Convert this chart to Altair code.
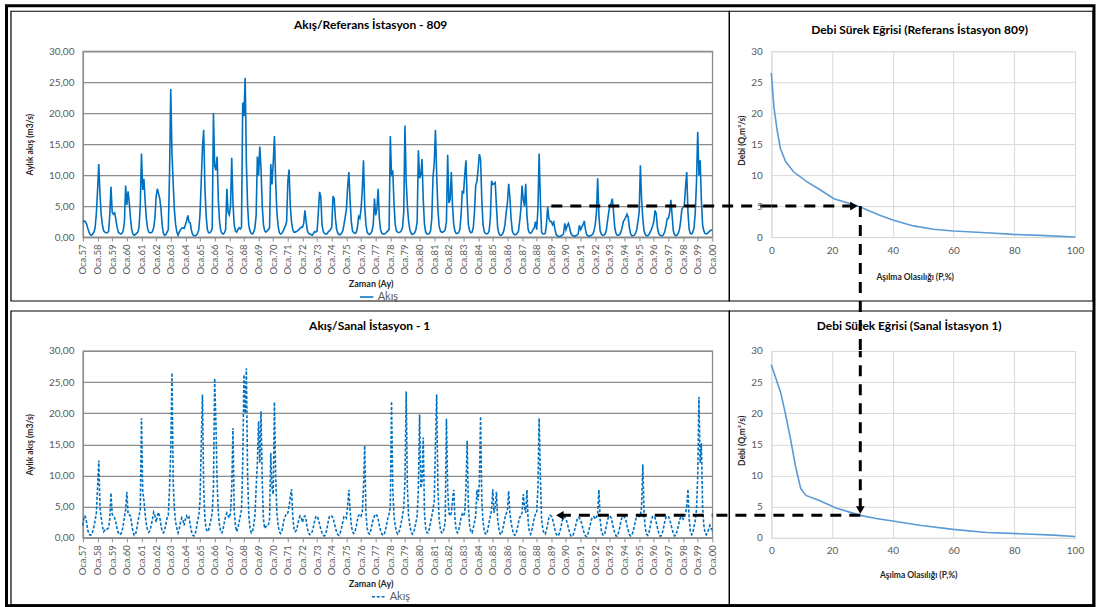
import altair as alt
import pandas as pd

# ---------------------------------------------------------------- data
YEAR_LABELS = ["57", "58", "59", "60", "61", "62", "63", "64", "65", "66", "67",
               "68", "69", "70", "71", "72", "73", "74", "75", "76", "77", "78",
               "79", "80", "81", "82", "83", "84", "85", "86", "87", "88", "89",
               "90", "91", "92", "93", "94", "95", "96", "97", "98", "99", "00"]

# monthly flow at reference station 809 (m3/s), one row per year, Oca..Ara
REF_FLOW = [
    [2.4, 2.6, 2.5, 2.1, 1.4, 0.8, 0.4, 0.3, 0.5, 0.8, 1.5, 3.8],
    [7.6, 11.8, 6.8, 3.6, 1.9, 1.0, 0.8, 0.7, 0.7, 0.9, 3.5, 8.1],
    [4.0, 3.7, 3.9, 2.8, 1.6, 0.8, 0.6, 0.5, 0.6, 1.0, 2.4, 8.3],
    [5.2, 7.4, 5.5, 3.0, 1.2, 0.5, 0.3, 0.4, 0.6, 0.8, 1.6, 5.0],
    [13.5, 7.6, 9.4, 5.8, 3.0, 1.4, 0.8, 0.7, 0.7, 0.9, 1.5, 3.0],
    [6.5, 7.8, 7.0, 6.2, 4.5, 1.8, 0.6, 0.3, 0.4, 0.8, 1.2, 10.2],
    [23.9, 13.5, 8.6, 4.3, 2.0, 0.8, 0.3, 0.8, 1.2, 1.4, 1.5, 1.4],
    [2.0, 2.6, 3.5, 2.4, 2.3, 1.0, 0.4, 0.2, 0.2, 0.3, 0.6, 1.2],
    [3.8, 9.0, 14.5, 17.3, 8.0, 3.5, 1.2, 0.7, 0.7, 0.9, 1.4, 20.0],
    [11.5, 10.8, 13.0, 6.0, 2.5, 1.0, 0.6, 0.5, 0.7, 1.2, 7.8, 4.0],
    [3.6, 5.0, 12.8, 5.5, 2.0, 1.0, 0.8, 1.2, 1.5, 1.3, 1.6, 21.7],
    [19.5, 25.7, 12.0, 5.0, 1.8, 1.0, 0.6, 0.5, 0.8, 1.5, 3.5, 13.0],
    [10.0, 14.6, 11.0, 5.0, 2.0, 1.0, 0.8, 1.0, 1.2, 1.5, 11.8, 8.5],
    [12.0, 16.3, 9.0, 4.0, 1.8, 0.7, 0.5, 0.6, 0.9, 1.4, 1.8, 2.5],
    [9.0, 10.9, 5.0, 2.5, 1.2, 0.8, 0.8, 0.9, 1.0, 1.2, 1.4, 1.6],
    [1.6, 2.2, 4.3, 2.5, 1.0, 0.6, 0.5, 0.4, 0.3, 0.6, 0.9, 0.8],
    [1.0, 4.0, 7.3, 6.5, 2.0, 0.9, 0.6, 0.5, 0.5, 0.8, 1.0, 1.2],
    [1.6, 6.6, 6.2, 3.0, 1.2, 0.6, 0.4, 0.4, 0.6, 1.0, 2.0, 3.2],
    [4.5, 8.0, 10.5, 6.0, 2.5, 1.0, 0.7, 0.6, 0.7, 1.5, 3.3, 3.0],
    [4.5, 7.5, 12.4, 5.0, 2.0, 0.8, 0.5, 0.4, 0.6, 1.0, 2.0, 6.2],
    [3.5, 4.5, 7.8, 3.0, 1.2, 0.6, 0.5, 0.5, 0.6, 0.8, 1.0, 1.2],
    [16.3, 9.8, 10.8, 5.5, 2.0, 1.0, 0.8, 0.7, 0.8, 1.0, 1.5, 4.0],
    [18.0, 9.0, 5.0, 2.5, 1.2, 0.6, 0.4, 0.5, 0.7, 1.2, 2.5, 14.0],
    [9.5, 10.0, 12.6, 6.0, 2.0, 0.8, 0.5, 0.5, 0.6, 1.0, 3.0, 9.7],
    [12.0, 17.3, 10.0, 4.5, 1.8, 1.0, 0.8, 0.8, 0.9, 1.2, 2.5, 13.3],
    [5.5, 6.0, 10.5, 5.0, 2.0, 0.9, 0.6, 0.6, 0.7, 1.2, 3.5, 7.5],
    [7.0, 10.0, 12.4, 6.0, 2.0, 1.0, 0.7, 0.8, 1.5, 4.0, 8.3, 9.0],
    [11.0, 13.4, 12.5, 6.0, 2.0, 0.9, 0.6, 0.5, 0.6, 1.0, 3.0, 9.1],
    [8.5, 8.6, 8.8, 5.0, 1.5, 0.6, 0.3, 0.3, 0.5, 1.0, 2.0, 4.0],
    [5.5, 8.6, 6.5, 3.0, 1.0, 0.5, 0.4, 0.4, 0.6, 0.9, 2.5, 4.5],
    [8.3, 6.0, 5.0, 8.6, 3.5, 1.2, 0.7, 0.6, 0.8, 1.2, 1.5, 2.5],
    [1.2, 4.5, 13.5, 6.0, 0.8, 0.5, 0.5, 0.6, 2.0, 4.9, 3.0, 2.5],
    [2.5, 2.0, 2.4, 1.2, 0.4, 0.2, 0.1, 0.1, 0.2, 0.3, 0.5, 2.2],
    [1.2, 1.8, 2.2, 1.5, 0.6, 0.3, 0.2, 0.1, 0.2, 0.3, 0.5, 1.9],
    [1.2, 1.6, 2.0, 2.6, 1.2, 0.4, 0.2, 0.1, 0.2, 0.3, 0.5, 1.0],
    [2.0, 4.0, 9.5, 3.5, 1.0, 0.5, 0.3, 0.3, 0.5, 1.0, 2.5, 4.0],
    [5.0, 5.5, 6.2, 4.0, 1.5, 0.6, 0.3, 0.3, 0.4, 0.8, 1.5, 2.5],
    [2.8, 3.2, 3.7, 3.2, 1.5, 0.5, 0.2, 0.2, 0.3, 0.6, 1.2, 2.5],
    [4.0, 11.6, 6.0, 3.0, 1.0, 0.4, 0.2, 0.2, 0.4, 0.8, 1.2, 1.8],
    [2.5, 4.3, 3.8, 1.5, 0.6, 0.3, 0.2, 0.2, 0.4, 0.9, 1.8, 3.0],
    [3.0, 4.0, 6.0, 3.5, 1.0, 0.4, 0.2, 0.3, 0.6, 1.2, 2.5, 4.5],
    [4.8, 5.1, 8.0, 10.5, 4.0, 1.2, 0.6, 0.5, 0.8, 1.5, 4.0, 8.9],
    [17.0, 10.0, 12.4, 6.0, 2.0, 1.0, 0.6, 0.5, 0.6, 0.8, 1.0, 1.1],
]
REF_FLOW_LAST = 1.2  # Oca.00

# generated monthly flow at virtual station 1 (m3/s)
VIRT_FLOW = [
    [2.0, 3.5, 3.4, 2.5, 1.2, 0.6, 0.4, 0.5, 1.0, 1.8, 2.8, 4.0],
    [8.0, 12.4, 5.0, 3.2, 1.8, 1.0, 1.2, 1.5, 1.4, 1.6, 3.0, 7.2],
    [3.8, 3.4, 3.2, 2.5, 1.4, 0.8, 0.5, 0.6, 1.0, 2.0, 3.3, 4.5],
    [7.4, 3.8, 3.7, 3.5, 2.2, 1.0, 0.4, 0.5, 1.2, 2.5, 3.5, 4.5],
    [19.2, 7.5, 6.0, 3.8, 2.2, 1.2, 0.9, 1.2, 2.0, 3.0, 4.1, 3.6],
    [2.5, 3.5, 4.1, 3.3, 2.0, 1.0, 0.8, 1.2, 2.2, 3.2, 3.6, 8.0],
    [14.0, 26.5, 9.0, 4.5, 2.5, 1.5, 0.8, 1.5, 2.5, 3.2, 2.8, 2.0],
    [3.0, 3.5, 3.0, 3.3, 2.0, 1.0, 0.4, 0.3, 0.6, 1.5, 2.8, 3.5],
    [6.0, 15.0, 23.0, 8.0, 3.0, 1.5, 1.0, 1.2, 2.0, 3.0, 4.0, 8.0],
    [25.6, 18.7, 9.0, 4.0, 2.0, 1.0, 0.8, 1.5, 2.5, 3.5, 4.0, 3.5],
    [3.2, 4.0, 8.0, 17.6, 4.5, 2.0, 1.0, 1.5, 2.5, 3.5, 4.5, 12.0],
    [26.2, 20.0, 27.2, 10.0, 3.5, 1.5, 0.8, 1.0, 2.0, 3.5, 8.0, 12.0],
    [18.7, 12.0, 20.3, 9.0, 3.0, 1.5, 1.8, 2.0, 2.0, 3.0, 13.6, 8.0],
    [7.0, 21.8, 10.0, 4.0, 2.0, 1.0, 0.7, 1.0, 2.0, 3.0, 3.5, 4.0],
    [4.0, 5.0, 6.5, 7.8, 3.5, 1.5, 1.0, 1.2, 2.0, 3.0, 3.5, 3.2],
    [2.5, 3.3, 3.5, 2.8, 1.5, 0.8, 0.5, 0.6, 1.0, 1.8, 2.8, 3.4],
    [3.5, 3.0, 2.2, 1.4, 0.8, 0.4, 0.3, 0.6, 1.4, 2.5, 3.4, 3.6],
    [3.5, 3.2, 2.4, 1.6, 0.9, 0.5, 0.4, 0.8, 1.6, 2.5, 3.4, 3.5],
    [3.2, 5.0, 7.7, 4.5, 2.0, 1.0, 0.7, 1.0, 1.8, 2.8, 3.6, 3.8],
    [3.5, 4.0, 8.0, 14.8, 4.0, 1.5, 0.8, 0.6, 1.2, 2.2, 3.0, 3.5],
    [3.8, 3.6, 3.0, 2.0, 1.2, 0.6, 0.4, 0.6, 1.2, 2.2, 3.2, 3.8],
    [5.0, 21.9, 8.0, 3.5, 2.0, 1.0, 0.6, 0.8, 1.5, 2.5, 3.5, 5.0],
    [9.0, 23.5, 8.0, 3.5, 2.0, 1.0, 0.6, 0.8, 1.5, 2.5, 3.5, 8.0],
    [19.8, 8.0, 9.0, 16.1, 4.0, 1.5, 0.8, 0.8, 1.5, 2.5, 3.5, 4.5],
    [6.0, 15.0, 23.0, 8.0, 3.0, 1.5, 0.8, 0.8, 1.5, 2.5, 19.1, 8.0],
    [4.0, 3.5, 4.0, 6.0, 7.7, 3.0, 1.2, 0.8, 1.2, 2.2, 3.2, 3.8],
    [3.5, 4.0, 8.0, 15.6, 5.0, 2.0, 1.0, 0.8, 1.5, 2.5, 3.5, 7.7],
    [6.0, 9.0, 19.5, 6.0, 2.5, 1.2, 0.6, 0.6, 1.4, 2.5, 3.5, 4.5],
    [7.8, 4.0, 5.0, 7.4, 3.0, 1.4, 0.6, 0.5, 1.2, 2.2, 3.2, 3.8],
    [4.5, 7.5, 4.0, 2.5, 1.4, 0.7, 0.4, 0.6, 1.4, 2.4, 3.2, 3.6],
    [4.0, 7.0, 5.0, 4.0, 7.7, 2.5, 1.0, 0.6, 1.2, 2.2, 3.2, 3.8],
    [4.0, 8.0, 19.2, 10.0, 3.0, 1.4, 0.7, 0.6, 1.2, 2.2, 3.2, 3.6],
    [3.5, 3.0, 2.2, 1.3, 0.6, 0.3, 0.4, 1.0, 1.8, 2.8, 3.4, 3.3],
    [3.0, 2.4, 1.6, 0.8, 0.3, 0.2, 0.5, 1.2, 2.0, 2.8, 3.3, 3.2],
    [2.8, 2.2, 1.4, 0.7, 0.3, 0.2, 0.6, 1.4, 2.2, 3.0, 3.4, 3.4],
    [3.0, 3.3, 4.0, 7.7, 3.0, 1.2, 0.5, 0.4, 0.8, 1.8, 2.8, 3.4],
    [3.5, 3.2, 2.4, 1.5, 0.8, 0.3, 0.3, 0.8, 1.6, 2.6, 3.3, 3.5],
    [3.3, 2.8, 2.0, 1.2, 0.5, 0.3, 0.4, 1.0, 1.8, 2.8, 3.4, 3.5],
    [3.4, 3.5, 5.0, 11.8, 4.0, 1.5, 0.6, 0.4, 0.8, 1.8, 2.8, 3.4],
    [3.5, 3.2, 2.5, 1.6, 0.8, 0.3, 0.3, 0.8, 1.6, 2.6, 3.3, 3.5],
    [3.4, 3.0, 2.2, 1.4, 0.7, 0.3, 0.4, 1.0, 1.8, 2.8, 3.3, 3.4],
    [3.0, 3.3, 3.8, 5.0, 7.8, 3.0, 1.0, 0.5, 0.8, 1.8, 2.8, 4.5],
    [10.0, 22.6, 12.0, 15.2, 5.0, 2.0, 0.8, 0.5, 0.8, 1.4, 2.0, 1.5],
]
VIRT_FLOW_LAST = 1.2  # Oca.00

# flow duration curves: exceedance probability (%) and discharge (m3/s)
REF_FDC_P = [0, 0.9, 2, 3, 4.7, 7.4, 11.8, 16.2, 20.6, 28.5, 35.9, 40.3, 46.8,
             53.4, 60, 70.9, 79.6, 88.4, 100]
REF_FDC_Q = [26.5, 20.8, 17, 14.3, 12.2, 10.5, 8.9, 7.6, 6.2, 5.0, 3.5, 2.7, 1.8,
             1.25, 0.97, 0.7, 0.43, 0.27, 0.0]
VIRT_FDC_P = [0, 3.1, 4.7, 6.4, 8, 9.7, 11.4, 15.8, 21.3, 29.3, 34.5, 40, 48.8,
              59.9, 70.9, 81.9, 92.9, 100]
VIRT_FDC_Q = [27.8, 23.3, 19.8, 15.7, 11.4, 7.9, 6.8, 6.0, 4.8, 3.6, 3.1, 2.7, 2.0,
              1.35, 0.86, 0.65, 0.43, 0.2]

# transfer path: reference flow -> exceedance probability -> virtual flow
START_MONTH = 384          # Oca.89
Q_REF_PICK = 5.0
P_PICK = 29.3
Q_VIRT_PICK = 3.6

# ---------------------------------------------------------------- layout
FONT = "Lato"
BLUE = "#0070c0"
FDC_BLUE = "#5b9bd5"
LABEL_GREY = "#595959"
GRID_DARK = "#8c8c8c"
GRID_LIGHT = "#d9d9d9"

W1, W2 = 630, 304          # plot widths, left / right column
H1, H2 = 186, 187          # plot heights, top / bottom row
HSPACE, VSPACE = 59, 114

N_MONTHS = len(REF_FLOW) * 12 + 1
month_ticks = list(range(0, N_MONTHS, 12))
label_array = "[" + ",".join(f"'Oca.{y}'" for y in YEAR_LABELS) + "]"
q_ticks = [0, 5, 10, 15, 20, 25, 30]
p_ticks = [0, 20, 40, 60, 80, 100]


def monthly_frame(rows, last):
    vals = [v for row in rows for v in row] + [last]
    return pd.DataFrame({"t": list(range(len(vals))), "q": vals, "seri": "Akış"})


ref_df = monthly_frame(REF_FLOW, REF_FLOW_LAST)
virt_df = monthly_frame(VIRT_FLOW, VIRT_FLOW_LAST)
ref_fdc = pd.DataFrame({"p": REF_FDC_P, "q": REF_FDC_Q})
virt_fdc = pd.DataFrame({"p": VIRT_FDC_P, "q": VIRT_FDC_Q})

one_row = alt.Data(values=[{"k": 1}])


def frame(x0, x1, y0, y1, width=1.2):
    return alt.Chart(one_row).mark_rect(filled=False, stroke="black", strokeWidth=width).encode(
        x=alt.value(x0), x2=alt.value(x1), y=alt.value(y0), y2=alt.value(y1))


def heading(text, cx, cy):
    return alt.Chart(one_row).mark_text(
        text=text, font=FONT, fontSize=12, fontWeight="bold", color="#000000",
        align="center", baseline="middle").encode(x=alt.value(cx), y=alt.value(cy))


def dashed_rule():
    return alt.Chart(one_row).mark_rule(color="black", strokeWidth=3, strokeDash=[11, 8])


def head(shape):
    return alt.Chart(one_row).mark_point(shape=shape, filled=True, color="black",
                                         opacity=1, size=75, strokeWidth=0)


def flow_panel(df, dashed, height, legend_x, legend_y):
    x = alt.X("t:Q", scale=alt.Scale(domain=[0, N_MONTHS - 1], nice=False, zero=False),
              axis=alt.Axis(values=month_ticks, tickCount=len(month_ticks),
                            labelExpr=label_array + "[round(datum.value / 12)]",
                            labelAngle=270, labelAlign="right", labelBaseline="middle",
                            labelFontSize=9.5, labelColor=LABEL_GREY, labelPadding=3,
                            labelOverlap=False, labelFlush=False, labelBound=False,
                            tickSize=4, tickColor=GRID_DARK, domainColor=GRID_DARK,
                            domainWidth=1.3, grid=False,
                            title="Zaman (Ay)", titleFontSize=9, titleFontWeight="bold",
                            titleColor="#262626", titleX=W1 / 2 - 27, titleY=46,
                            titleAlign="center", titleBaseline="middle"))
    y = alt.Y("q:Q", scale=alt.Scale(domain=[0, 30], nice=False, zero=True),
              axis=alt.Axis(values=q_ticks, tickCount=len(q_ticks),
                            labelExpr="replace(format(datum.value, '.2f'), '.', ',')",
                            labelFontSize=10, labelColor=LABEL_GREY, labelPadding=9,
                            labelOverlap=False, labelFlush=False,
                            ticks=False, domainColor=GRID_DARK, domainWidth=1.3,
                            grid=True, gridColor=GRID_DARK, gridWidth=1.3,
                            title="Aylık akış (m3/s)", titleFontSize=8.5,
                            titleFontWeight="bold", titleColor="#262626",
                            titleAngle=270, titleX=-53, titleY=height / 2,
                            titleAlign="center", titleBaseline="middle"))
    legend = alt.Legend(orient="none", legendX=legend_x, legendY=legend_y, title=None,
                        symbolType="stroke", symbolStrokeWidth=1.6, symbolSize=180,
                        symbolDash=[3, 1.8] if dashed else [1, 0],
                        labelFontSize=11, labelColor=LABEL_GREY, labelFont=FONT,
                        padding=0, labelOffset=3)
    mark = alt.Chart(df).mark_line(strokeWidth=1.6, strokeDash=[3, 1.8]) if dashed \
        else alt.Chart(df).mark_line(strokeWidth=1.6)
    return mark.encode(
        x=x, y=y,
        color=alt.Color("seri:N", scale=alt.Scale(range=[BLUE]), legend=legend))


def fdc_panel(df, x_title_x, x_title_y, height):
    x = alt.X("p:Q", scale=alt.Scale(domain=[0, 100], nice=False),
              axis=alt.Axis(values=p_ticks, tickCount=len(p_ticks), grid=True,
                            gridColor=GRID_LIGHT,
                            domain=False, ticks=False, labelPadding=8, labelFontSize=10,
                            labelColor=LABEL_GREY, labelFlush=False, labelOverlap=False,
                            title="Aşılma Olasılığı (P,%)", titleFontSize=8.5,
                            titleFontWeight="bold", titleColor="#262626",
                            titleX=x_title_x, titleY=x_title_y, titleAlign="center",
                            titleBaseline="middle"))
    y = alt.Y("q:Q", scale=alt.Scale(domain=[0, 30], nice=False),
              axis=alt.Axis(values=q_ticks, tickCount=len(q_ticks), grid=True,
                            gridColor=GRID_LIGHT,
                            domain=False, ticks=False, labelPadding=9, labelFontSize=10,
                            labelColor=LABEL_GREY, labelOverlap=False, labelFlush=False,
                            title="Debi (Q,m³/s)", titleFontSize=8.5, titleFontWeight="bold",
                            titleColor="#262626", titleAngle=270, titleX=-30,
                            titleY=height / 2 - 4, titleAlign="center",
                            titleBaseline="middle"))
    return alt.Chart(df).mark_line(color=FDC_BLUE, strokeWidth=1.6).encode(x=x, y=y)


# ---------------------------------------------------------------- panels
top_left = alt.layer(
    frame(-76.5, 1012, -45.5, 555, width=3),
    frame(-72, 647, -40, 250),
    flow_panel(ref_df, False, H1, 276, 238),
    heading("Akış/Referans İstasyon - 809", W1 / 2 - 27, -26),
    dashed_rule().encode(x=alt.datum(START_MONTH), x2=alt.value(W1 + HSPACE),
                         y=alt.datum(Q_REF_PICK)),
).properties(width=W1, height=H1,
             view=alt.ViewBackground(stroke=GRID_DARK, strokeWidth=1.3))

top_right = alt.layer(
    frame(-42, 322, -40, 250),
    fdc_panel(ref_fdc, 143.5, 39, H1),
    heading("Debi Sürek Eğrisi (Referans İstasyon 809)", W2 / 2 - 3.5, -21.5),
    dashed_rule().encode(x=alt.datum(27.0), x2=alt.value(0), y=alt.datum(Q_REF_PICK)),
    dashed_rule().encode(x=alt.datum(P_PICK), y=alt.datum(Q_REF_PICK),
                         y2=alt.value(H1 + VSPACE)),
    head("triangle-right").encode(x=alt.datum(27.2), y=alt.datum(Q_REF_PICK)),
).properties(width=W2, height=H1,
             view=alt.ViewBackground(stroke=GRID_LIGHT, strokeWidth=1))

bottom_left = alt.layer(
    frame(-72, 647, -40, 254),
    flow_panel(virt_df, True, H2, 288, 238),
    heading("Akış/Sanal İstasyon - 1", W1 / 2 - 28, -25),
    dashed_rule().encode(x=alt.datum(391), x2=alt.value(W1), y=alt.datum(Q_VIRT_PICK)),
    head("triangle-left").encode(x=alt.datum(391), y=alt.datum(Q_VIRT_PICK)),
).properties(width=W1, height=H2,
             view=alt.ViewBackground(stroke=GRID_DARK, strokeWidth=1.3))

bottom_right = alt.layer(
    frame(-42, 322, -40, 254),
    fdc_panel(virt_fdc, 147, 37, H2),
    heading("Debi Sürek Eğrisi (Sanal İstasyon 1)", W2 / 2 - 14, -25),
    dashed_rule().encode(x=alt.datum(P_PICK), x2=alt.value(-HSPACE), y=alt.datum(Q_VIRT_PICK)),
    dashed_rule().encode(x=alt.datum(P_PICK), y=alt.datum(4.6), y2=alt.value(0)),
    head("triangle-down").encode(x=alt.datum(P_PICK), y=alt.datum(4.45)),
).properties(width=W2, height=H2,
             view=alt.ViewBackground(stroke=GRID_LIGHT, strokeWidth=1))

chart = alt.concat(
    top_left, top_right, bottom_left, bottom_right,
    columns=2, spacing={"row": VSPACE, "column": HSPACE}, bounds="flush", align="each",
).resolve_scale(color="independent").resolve_legend(color="independent").properties(
    padding={"left": 4, "top": 3, "right": 2, "bottom": 0},
    background="white",
).configure(font=FONT).configure_axis(
    labelFont=FONT, titleFont=FONT, labelOverlap=False
)

chart.save("out.html", embed_options={"renderer": "svg", "actions": False})
